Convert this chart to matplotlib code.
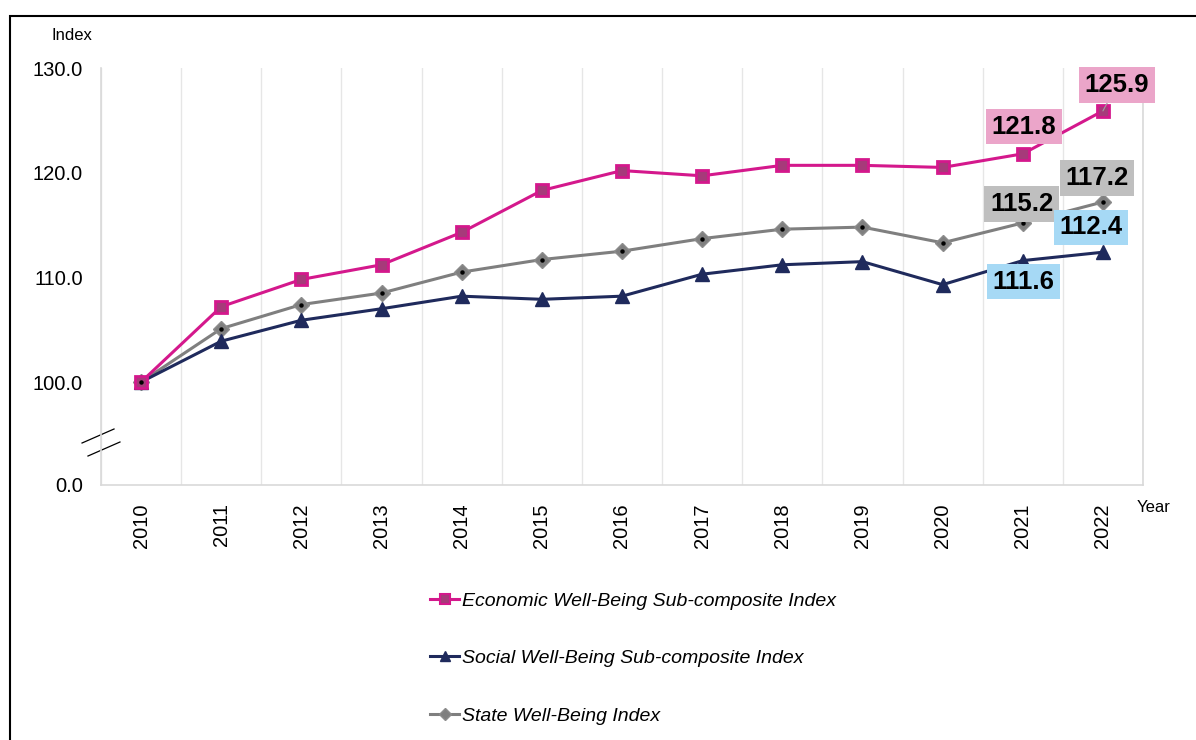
import numpy as np
import matplotlib
matplotlib.use("Agg")
import matplotlib.pyplot as plt
from matplotlib.patches import Rectangle
from matplotlib.lines import Line2D

plt.rcParams['font.family'] = ['Liberation Sans', 'DejaVu Sans']

# --- data ---
years = ["2010", "2011", "2012", "2013", "2014", "2015", "2016",
         "2017", "2018", "2019", "2020", "2021", "2022"]
economic = [100.0, 107.2, 109.8, 111.2, 114.3, 118.3, 120.2,
            119.7, 120.7, 120.7, 120.5, 121.8, 125.9]
social = [100.0, 103.9, 105.9, 107.0, 108.2, 107.9, 108.2,
          110.3, 111.2, 111.5, 109.3, 111.6, 112.4]
state = [100.0, 105.1, 107.4, 108.5, 110.5, 111.7, 112.5,
         113.7, 114.6, 114.8, 113.3, 115.2, 117.2]

names = ["Economic Well-Being Sub-composite Index",
         "Social Well-Being Sub-composite Index",
         "State Well-Being Index"]

ytick_vals = [100, 110, 120, 130]
y_floor = 90.16  # visual position of the broken "0.0" tick

PINK = "#D4188C"
NAVY = "#1F2A5C"
GREY = "#7F7F7F"

fig = plt.figure(figsize=(11.96, 7.40), dpi=100)
ax = fig.add_axes([101 / 1196, 1 - 485 / 740, 1042 / 1196, 417 / 740])

x = np.arange(len(years))

ax.plot(x, state, color=GREY, lw=2.2, marker="D", ms=8.5,
        mfc=GREY, mec="#8C8C8C", zorder=3)
ax.plot(x, state, ls="none", marker="o", ms=2.2, color="black", zorder=4)
ax.plot(x, social, color=NAVY, lw=2.2, marker="^", ms=9.5,
        mfc=NAVY, mec=NAVY, zorder=3)
ax.plot(x, economic, color=PINK, lw=2.2, marker="s", ms=8,
        mfc="#A63A7A", mec=PINK, mew=2, zorder=3)

ax.set_xlim(-0.5, len(years) - 0.5)
ax.set_ylim(y_floor, 130)

ax.set_xticks(x)
ax.set_xticklabels(years, rotation=90, fontsize=14.5)
ax.set_xticks(np.arange(-0.5, len(years), 1), minor=True)
ax.grid(which="minor", axis="x", color="#E6E6E6", lw=1)
ax.tick_params(axis="x", which="both", length=0, pad=13)

ax.set_yticks([y_floor] + ytick_vals)
ax.set_yticklabels(["0.0"] + [f"{v:.1f}" for v in ytick_vals], fontsize=14.5)
ax.tick_params(axis="y", length=0, pad=13)

for side in ["left", "bottom", "right"]:
    ax.spines[side].set_color("#D9D9D9")
    ax.spines[side].set_linewidth(1.2)
ax.spines["top"].set_visible(False)

# axis break marks
for (x0, y0, x1, y1) in [(-0.0182, 0.1007, 0.0125, 0.1343),
                         (-0.0125, 0.0695, 0.0182, 0.1031)]:
    ax.plot([x0, x1], [y0, y1], transform=ax.transAxes, color="black",
            lw=0.9, clip_on=False)

# data labels for the last two years
label_specs = [
    (economic, 11, "#EBA5C9", (1, 27), False),
    (economic, 12, "#EBA5C9", (14, 26), True),
    (state, 11, "#BFBFBF", (-1, 19), False),
    (state, 12, "#BFBFBF", (-6, 24), False),
    (social, 11, "#A6D9F5", (1, -21), False),
    (social, 12, "#A6D9F5", (-12, 25), False),
]
for series, i, bg, off, leader in label_specs:
    kw = {}
    if leader:
        kw["arrowprops"] = dict(arrowstyle="-", color="#A0A0A0", lw=0.8,
                                shrinkA=0, shrinkB=0)
    ax.annotate(f"{series[i]:.1f}", (x[i], series[i]), xytext=off,
                textcoords="offset pixels", ha="center", va="center",
                fontsize=18.5, fontweight="bold", color="black", zorder=6,
                bbox=dict(boxstyle="square,pad=0.22", fc=bg, ec="none"), **kw)

fig.text(72 / 1196, 1 - 35 / 740, "Index", fontsize=12, ha="center", va="center")
fig.text(1137 / 1196, 1 - 508 / 740, "Year", fontsize=12, ha="left", va="center")

handles = [
    Line2D([], [], color=PINK, lw=2.2, marker="s", ms=6.5, mfc="#A63A7A", mec=PINK, mew=1.5),
    Line2D([], [], color=NAVY, lw=2.2, marker="^", ms=7.5, mfc=NAVY, mec=NAVY),
    Line2D([], [], color=GREY, lw=2.2, marker="D", ms=6.5, mfc=GREY, mec="#8C8C8C"),
]
leg = fig.legend(handles, names, loc="upper left",
                 bbox_to_anchor=(430 / 1196, 1 - 592 / 740),
                 frameon=False, fontsize=14, handlelength=1.5,
                 handletextpad=0.15, labelspacing=2.06, borderaxespad=0,
                 borderpad=0)
for t in leg.get_texts():
    t.set_fontstyle("italic")

# outer frame
fig.patches.append(Rectangle((10 / 1196, -0.1), 1.2, 1 - 16 / 740 + 0.1,
                             transform=fig.transFigure, fill=False,
                             ec="black", lw=1.5))

fig.savefig("out.png", dpi=100)
